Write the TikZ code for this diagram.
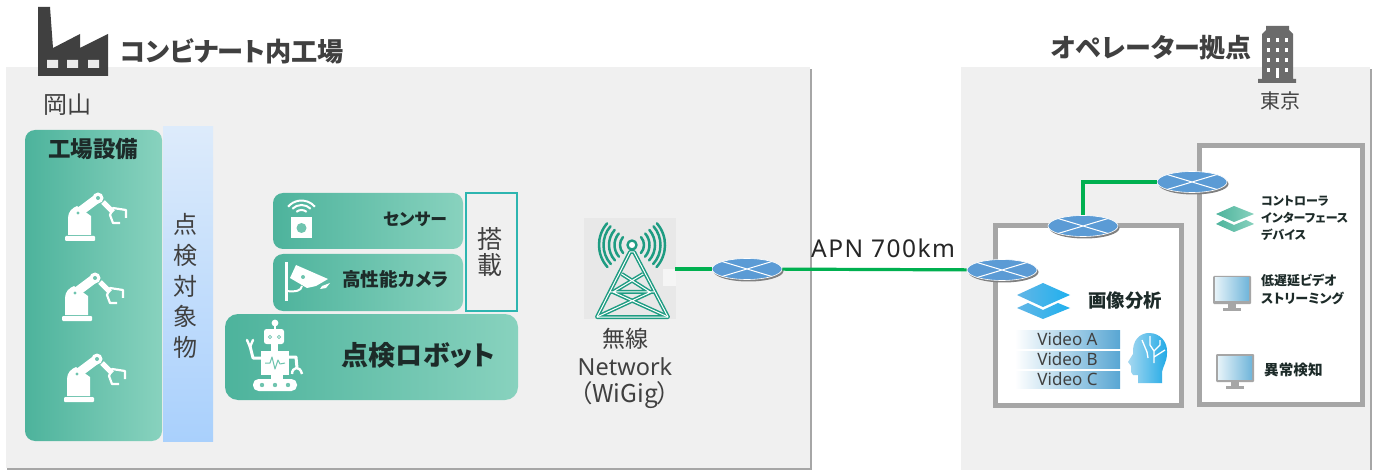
\documentclass[tikz,border=0pt]{standalone}
\usepackage{fontspec}
\setmainfont[RawFeature=+palt]{Noto Sans CJK JP}
\newfontfamily\latinf{Noto Sans}
\newfontfamily\latinw[LetterSpace=6]{Noto Sans}
\usetikzlibrary{shapes.geometric,shadows}
\newcommand\fs[2][1.2]{\fontsize{#2}{\fpeval{#1*#2}}\selectfont}
\definecolor{gL}{HTML}{4DB39C}
\definecolor{gR}{HTML}{88D2BE}
\definecolor{gM}{HTML}{6FC4AF}
\definecolor{panelc}{HTML}{F0F0F0}
\definecolor{dark}{HTML}{404040}
\definecolor{ink}{HTML}{1D2B29}
\definecolor{frameg}{HTML}{A6A6A6}
\definecolor{netg}{HTML}{00B050}
\definecolor{rblue}{HTML}{5B9BD5}
\definecolor{towerc}{HTML}{1E9C82}
\definecolor{barR}{HTML}{58A6D3}
\definecolor{capT}{HTML}{DDEBFB}
\definecolor{capB}{HTML}{A9D0FC}
\definecolor{mountc}{HTML}{2DB5B0}
\definecolor{layL}{HTML}{62B6E6}
\definecolor{layR}{HTML}{1FB0EE}
\definecolor{headL}{HTML}{A6D8F0}
\definecolor{headR}{HTML}{1FA9E6}
\definecolor{scrL}{HTML}{E6F3F9}
\definecolor{scrR}{HTML}{6FB5DA}
\tikzset{
 x=1pt,y=-1pt,
 panel/.style={fill=panelc,draw=none,anchor=north west,inner sep=0,minimum width=#1},
 gbox/.style={shade,left color=gL,right color=gR,rounded corners=10pt,draw=none,anchor=north west,inner sep=0,outer sep=0},
 txt/.style={inner sep=0,text=dark},
 btxt/.style={inner sep=0,text=ink},
 hostbox/.style={draw=frameg,line width=5pt,fill=white,anchor=north west,inner sep=0},
 link/.style={draw=netg,line width=3.2pt},
 router/.style={ellipse,fill=rblue,draw=white,line width=.6pt,inner sep=0,minimum width=70pt,minimum height=21pt,
   drop shadow={shadow xshift=1.5pt,shadow yshift=-2pt,fill=black!50,opacity=1},
   path picture={\draw[white,line width=1pt]
     (path picture bounding box.north west)--(path picture bounding box.south east)
     (path picture bounding box.south west)--(path picture bounding box.north east);}},
 vbar/.style={shade,left color=white,right color=barR,anchor=north west,inner sep=0,outer sep=0,minimum width=105pt,text=dark,font=\latinf\fs{17}},
 screen/.pic={
  \fill[frameg,rounded corners=1pt] (0,0) rectangle (38,28);
  \shade[left color=scrL,right color=scrR] (2,2) rectangle (36,25);
  \fill[frameg] (15,28) rectangle (23,32);
  \fill[frameg] (10,32) rectangle (28,34.5);
 },
}
\newcommand\armicon[2]{%
 \begin{scope}[shift={(#1,#2)}]
  \fill[white,rounded corners=1pt] (0,-5) rectangle (30,0);
  \fill[white] (3,-6) -- (3,-23) .. controls (3,-29) and (7,-33) .. (12,-35) -- (26,-25) -- (26,-6) -- cycle;
  \draw[white,line width=9pt] (13,-28) -- (33,-43);
  \fill[white] (33,-43) circle (5.5);
  \fill[gM] (33,-43) circle (2) (13,-28) circle (1.6);
  \draw[white,line width=5pt] (38,-39) -- (48,-29);
  \draw[white,line width=2.2pt,line join=round] (55,-18) -- (48,-18) -- (45,-26) -- (48,-33) -- (61,-31) -- (61,-23);
 \end{scope}}
\begin{document}
\begin{tikzpicture}
\useasboundingbox (0,0) rectangle (1381,470);
% panels
\fill[black!35] (7,69) rectangle (812,470);
\fill[black!35] (962,69) rectangle (1372,470);
\node[panel=804pt,minimum height=401pt,outer sep=0] (west) at (6,67) {};
\node[panel=409pt,minimum height=403pt,outer sep=0] (east) at (961,67) {};
% factory icon
\fill[dark] (38,7) -- (50,7) -- (53,48) -- (80,34) -- (80,48) -- (108,34) -- (108,76) -- (38,76) -- cycle;
\fill[white!92!black] (47,60) rectangle (58,68) (67,60) rectangle (78,68) (88,60) rectangle (99,68);
\node[txt,anchor=west,font=\bfseries\fs{26.2}] (t1) at (120,51) {コンビナート内工場};
\node[txt,anchor=west,font=\fs{24}] (t2) at (43,105) {岡山};
% factory equipment
\node[gbox,minimum width=137pt,minimum height=311pt] (equip) at (25,130) {};
\node[shade,top color=capT,bottom color=capB,anchor=north west,inner sep=0,outer sep=0,minimum width=50pt,minimum height=314pt] (target) at (163,127) {};
\node[btxt,font=\bfseries\fs{22.5}] (t3) at (93,149) {工場設備};
\node[txt,align=center,font={\fs[1.28]{24}}] (t4) at (185,286) {点\\検\\対\\象\\物};
% robot group
\node[gbox,minimum width=190pt,minimum height=56pt] (sensor) at (273,193) {};
\node[gbox,minimum width=190pt,minimum height=57pt] (camera) at (273,254) {};
\node[gbox,rounded corners=13pt,minimum width=293pt,minimum height=86pt] (robot) at (225,314) {};
\node[draw=mountc,line width=1.6pt,anchor=north west,inner sep=0,minimum width=51pt,minimum height=118pt] (mount) at (465,192) {};
\node[txt,align=center,font={\fs[1.06]{25}}] (t5) at (490,252) {搭\\載};
\node[btxt,font=\bfseries\fs{16.8}] (t6) at (415,219) {センサー};
\node[btxt,font=\bfseries\fs{18.6}] (t7) at (395.5,279) {高性能カメラ};
\node[btxt,font=\bfseries\fs{27}] (t8) at (418.5,355) {点検ロボット};
% sensor icon
\fill[white] (291,217) rectangle (312,238);
\fill[gM] (301.5,228) circle (5);
\draw[white,line width=2pt] (301.5,218) ++(50:8pt) arc[start angle=50,end angle=130,radius=8pt];
\draw[white,line width=2pt] (301.5,218) ++(45:13pt) arc[start angle=45,end angle=135,radius=13pt];
\draw[white,line width=2pt] (301.5,218) ++(40:17.5pt) arc[start angle=40,end angle=140,radius=17.5pt];
% camera icon
\draw[white,line width=3pt] (286,262) -- (286,301);
\fill[white] (296,265) -- (328,279) -- (316,286) -- (307,288) -- (290,278) -- cycle;
\fill[white] (322,286) -- (330,283) -- (326,288) -- (320,289) -- cycle;
\draw[white,line width=2pt] (286,291) .. controls (296,292) and (301,291) .. (302,286);
\fill[gM] (303,277) circle (2);
% robot icon
\fill[white] (275,323) circle (3.4);
\draw[white,line width=2pt] (275,323) -- (275,330);
\fill[white,rounded corners=2.5pt] (264,329) rectangle (284,344);
\fill[white] (271,344) rectangle (278,351);
\draw[gM,fill=white,line width=.8pt] (270,337) circle (1.6) (279,337) circle (1.6);
\fill[white] (261,351) rectangle (289,375);
\draw[gM,line width=1pt,line join=round] (265,363) -- (270,363) -- (272,357) -- (275,369) -- (278,360) -- (280,364) -- (285,363);
\draw[white,line width=3pt,line join=round] (262,358) -- (253,358) -- (250,346);
\draw[white,line width=2.4pt,line cap=round] (250,347) -- (247,340) (250,347) -- (253,340);
\draw[white,line width=3pt,line join=round] (288,357) -- (296,357) -- (297,368);
\draw[white,line width=2.4pt] (292,374) .. controls (292,367) and (300,365) .. (302,374);
\fill[white] (283,375) rectangle (271,379);
\fill[white,rounded corners=5.5pt] (253,379) rectangle (297,391);
\fill[gM] (262,385) circle (2.2) (275,385) circle (2.2) (288,385) circle (2.2);
% tower
\node[fill=black!9,anchor=north west,inner sep=0,outer sep=0,minimum width=92pt,minimum height=101pt] (towerbg) at (584,218) {};
\fill[white!96!black] (663,269) rectangle (676,286);
\begin{scope}[towerc,line join=round]
\foreach \r in {12,17.5,23,28.5,33}{
  \draw[line width=2.5pt,line cap=round] (632,245) ++(139:\r pt) arc[start angle=139,end angle=222,radius=\r pt];
  \draw[line width=2.5pt,line cap=round] (632,245) ++(41:\r pt) arc[start angle=41,end angle=-42,radius=\r pt];
}
\fill[black!9] (632,245) -- (612,285) -- (652,285) -- cycle;
\foreach \cw/\cc in {4/towerc,1/white}{
 \draw[\cc,line width=\cw pt] (597,317) -- (630,252) -- (634,252) -- (668,317) -- cycle;
 \draw[\cc,line width=\cw pt] (621.7,274) -- (650,292) (643,274) -- (613,292) (610,292) -- (654,292) (613,292) -- (668,317) (651,292) -- (597,317);
}
\draw[line width=2.4pt,fill=white] (632,245) circle (4.5);
\end{scope}
\node[txt,font=\fs{23}] (t9) at (625,339) {無線};
\node[txt,font=\latinf\fs{23.5}] (t10) at (625,367) {Network};
\node[txt,font=\fs{24.5}] (t11) at (625,395) {（WiGig）};
\node[txt,text=black!85,font=\latinw\fs{24.5},anchor=west] (t12) at (811,248) {APN 700km};
% operator site
\node[txt,anchor=west,font=\bfseries\fs{26}] (t13) at (1051,48) {オペレーター拠点};
\fill[black!58] (1262,82) -- (1262,34) -- (1266,30) -- (1266,26) -- (1289,26) -- (1289,30) -- (1293,34) -- (1293,79) -- (1296,79) -- (1296,83) -- (1258,83) -- (1258,79) -- (1262,79) -- cycle;
\foreach \yy in {38.5,48.5,58.5,68.5}{ \foreach \xx in {1266.5,1275.5,1284.5}{ \fill[white] (\xx,\yy) rectangle ++(3.6,3.6); } }
\fill[white] (1275.8,69) rectangle (1278.5,78);
\node[txt,font=\fs{20}] (t14) at (1280,101) {東京};
% hosts
\node[hostbox,minimum width=186pt,minimum height=179.5pt] (hostA) at (993,223) {};
\node[hostbox,minimum width=163pt,minimum height=259pt] (hostB) at (1197,143) {};
% connectors
\coordinate (towerout) at (675,269);
\coordinate (bend) at (1083,182);
\node[router] (r1) at (747,269) {};
\node[router] (r2) at (1002,270) {};
\node[router] (r3) at (1083,226) {};
\node[router] (r4) at (1192,182) {};
\draw[link] (towerout) -- (r1);
\draw[link] (r1) -- (r2);
\draw[link] (r3.north) -- (bend) -- (r4.west);
% analysis
\shade[left color=layL,right color=layR] (1017,295) -- (1043,283) -- (1070,295) -- (1043,307) -- cycle;
\shade[left color=layL,right color=layR] (1017,308) -- (1028,303) -- (1043,310) -- (1058,303) -- (1070,308) -- (1043,319) -- cycle;
\node[btxt,font=\bfseries\fs{18.4},anchor=west] (t15) at (1088,301) {画像分析};
\node[vbar,minimum height=18pt] (va) at (1015,330) {Video A};
\node[vbar,minimum height=17pt] (vb) at (1015,351) {Video B};
\node[vbar,minimum height=17pt] (vc) at (1015,371) {Video C};
\shade[left color=headL,right color=headR] (1128,362) -- (1133,354) .. controls (1132,340) and (1140,333) .. (1149,333) .. controls (1160,333) and (1168,342) .. (1167,353) .. controls (1167,362) and (1163,366) .. (1162,372) -- (1162,383) -- (1138,383) -- (1138,375) -- (1133,375) -- (1131,372) -- (1131,366) -- cycle;
\draw[white,line width=1.3pt,line join=round] (1150,336) -- (1150,345) -- (1154,351) -- (1154,363) (1154,351) -- (1160,345) -- (1160,340) (1154,357) -- (1165,350) (1142,340) -- (1147,352) -- (1148,358);
% controller
\shade[left color=gL,right color=gR] (1216,214) -- (1234,206) -- (1254,214) -- (1234,222) -- cycle;
\shade[left color=gL,right color=gR] (1216,224) -- (1223,220) -- (1234,225) -- (1246,220) -- (1254,224) -- (1234,232) -- cycle;
\node[btxt,font={\bfseries\fs[1.42]{12}},anchor=north west,align=left] (t16) at (1261,195.5) {コントローラ\\インターフェース\\デバイス};
\pic at (1213,276) {screen};
\pic at (1216,354) {screen};
\node[btxt,font={\bfseries\fs[1.38]{13}},anchor=north west,align=left] (t17) at (1261,274) {低遅延ビデオ\\ストリーミング};
\node[btxt,font=\bfseries\fs{14.6},anchor=west] (t18) at (1264,370) {異常検知};
% arm icons
\armicon{65}{241}
\armicon{62}{321}
\armicon{64}{402}
\end{tikzpicture}
\end{document}
